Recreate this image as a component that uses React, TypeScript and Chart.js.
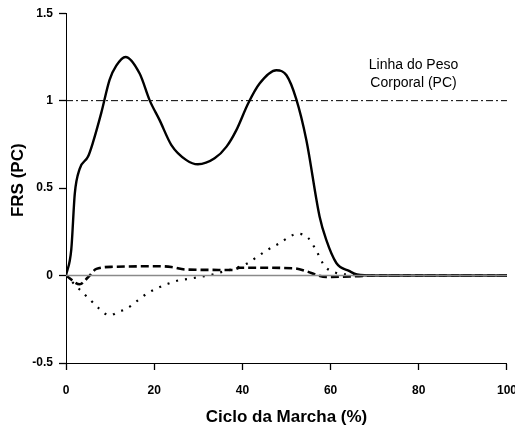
import React, { useEffect, useRef } from "react";
import { Chart, registerables } from "chart.js";

Chart.register(...registerables);

// Vertical ground reaction force (solid)
const verticalX = [0, 1.2, 2, 3.1, 5, 6.1, 8, 9.9, 11.4, 13.5, 16.7, 19, 21.2, 23.9, 27.3, 29.9, 33.7, 36.4, 38.6, 41.3, 43.9, 47.7, 50, 52.2, 54.5, 57.5, 59, 61.3, 64.3, 66, 70, 80, 90, 100];
const verticalY = [0, 0.15, 0.47, 0.61, 0.68, 0.76, 0.93, 1.12, 1.2, 1.25, 1.155, 1.0, 0.89, 0.746, 0.66, 0.636, 0.67, 0.737, 0.83, 0.984, 1.098, 1.174, 1.145, 1.01, 0.775, 0.338, 0.205, 0.072, 0.025, 0.006, 0, 0, 0, 0];

// Dashed component
const dashedX = [0, 3.1, 5, 6.9, 10.7, 21.2, 23.9, 27.3, 37.8, 39.4, 51.5, 54.5, 57.2, 59, 65.8, 70, 100];
const dashedY = [0, -0.05, -0.01, 0.038, 0.05, 0.053, 0.049, 0.034, 0.032, 0.045, 0.042, 0.025, 0.0, -0.008, -0.004, 0, 0];

// Dotted component
const dottedX = [0, 3.1, 5.4, 7.3, 9.9, 11.8, 14.1, 16.3, 18.6, 20.9, 23.1, 25.4, 27.7, 29.9, 32.2, 34.5, 38.6, 41.3, 43.5, 45.8, 48.1, 52.6, 54.9, 56.6, 58.7, 61.3, 64.3, 70, 100];
const dottedY = [0, -0.08, -0.137, -0.184, -0.228, -0.209, -0.184, -0.142, -0.099, -0.07, -0.047, -0.028, -0.019, -0.01, 0, 0.015, 0.044, 0.072, 0.11, 0.148, 0.18, 0.239, 0.215, 0.15, 0.053, 0.015, 0.005, 0, 0];

// Reference lines
const refX = [0, 100];
const bodyWeightY = [1, 1];
const zeroY = [0, 0];

const xTicks = [0, 20, 40, 60, 80, 100];
const yTicks = [-0.5, 0, 0.5, 1, 1.5];

const annotationLines = ["Linha do Peso", "Corporal (PC)"];
const xTitle = "Ciclo da Marcha (%)";
const yTitle = "FRS (PC)";

const FONT = "'Liberation Sans', Arial, Helvetica, sans-serif";

const zip = (xs: number[], ys: number[]) => xs.map((x, i) => ({ x, y: ys[i] }));

const annotationPlugin = {
  id: "pcAnnotation",
  afterDraw(chart: any) {
    const ctx = chart.ctx;
    ctx.save();
    ctx.fillStyle = "#000";
    ctx.font = `14px ${FONT}`;
    ctx.textAlign = "center";
    ctx.textBaseline = "middle";
    const xs = chart.scales.x;
    const ys = chart.scales.y;
    const cx = xs.getPixelForValue(78.8);
    const y0 = ys.getPixelForValue(1.2);
    ctx.fillText(annotationLines[0], cx, y0 - 1);
    ctx.fillText(annotationLines[1], cx, y0 + 17);
    // y axis title
    ctx.font = `bold 17px ${FONT}`;
    ctx.translate(18, ys.getPixelForValue(0.545));
    ctx.rotate(-Math.PI / 2);
    ctx.fillText(yTitle, 0, 0);
    ctx.restore();
  },
};

export default function App() {
  const canvasRef = useRef<HTMLCanvasElement | null>(null);

  useEffect(() => {
    document.body.style.margin = "0";
    const canvas = canvasRef.current;
    if (!canvas) return;
    const chart = new Chart(canvas, {
      type: "line",
      data: {
        datasets: [
          {
            label: "zero",
            data: zip(refX, zeroY),
            borderColor: "#8a8a8a",
            borderWidth: 1.5,
            pointRadius: 0,
            tension: 0,
          },
          {
            label: "PC",
            data: zip(refX, bodyWeightY),
            borderColor: "#000",
            borderWidth: 1,
            borderDash: [7, 3, 2, 3],
            pointRadius: 0,
            tension: 0,
          },
          {
            label: "dotted",
            data: zip(dottedX, dottedY),
            borderColor: "#000",
            borderWidth: 2.2,
            borderDash: [2, 7],
            pointRadius: 0,
            cubicInterpolationMode: "monotone",
          },
          {
            label: "dashed",
            data: zip(dashedX, dashedY),
            borderColor: "#000",
            borderWidth: 2.6,
            borderDash: [8, 4],
            pointRadius: 0,
            cubicInterpolationMode: "monotone",
          },
          {
            label: "vertical",
            data: zip(verticalX, verticalY),
            borderColor: "#000",
            borderWidth: 2.4,
            pointRadius: 0,
            cubicInterpolationMode: "monotone",
          },
        ],
      },
      options: {
        responsive: false,
        animation: false,
        layout: { padding: { left: 0, top: 13, right: 22.7, bottom: 0 } },
        plugins: {
          legend: { display: false },
          tooltip: { enabled: false },
        },
        scales: {
          x: {
            type: "linear",
            min: 0,
            max: 100,
            afterBuildTicks: (scale: any) => {
              scale.ticks = xTicks.map((v) => ({ value: v }));
            },
            afterFit: (scale: any) => {
              scale.height = 65;
            },
            border: { display: true, color: "#000", width: 1 },
            grid: {
              display: true,
              drawOnChartArea: false,
              drawTicks: true,
              tickLength: 7,
              color: "#000",
              tickColor: "#000",
              lineWidth: 1,
              tickWidth: 1.3,
            },
            ticks: {
              color: "#000",
              padding: 13,
              maxRotation: 0,
              callback: (v: any) => String(v),
              font: { family: FONT, size: 12, weight: "bold" },
            },
            title: {
              display: true,
              text: xTitle,
              color: "#000",
              padding: { top: 0, bottom: 0 },
              font: { family: FONT, size: 17, weight: "bold" },
            },
          },
          y: {
            type: "linear",
            min: -0.5,
            max: 1.5,
            afterBuildTicks: (scale: any) => {
              scale.ticks = yTicks.map((v) => ({ value: v }));
            },
            afterFit: (scale: any) => {
              scale.width = 66;
            },
            border: { display: true, color: "#000", width: 1 },
            grid: {
              display: true,
              drawOnChartArea: false,
              drawTicks: true,
              tickLength: 7,
              color: "#000",
              tickColor: "#000",
              lineWidth: 1,
              tickWidth: 1.3,
            },
            ticks: {
              color: "#000",
              padding: 6,
              callback: (v: any) => String(v),
              font: { family: FONT, size: 12, weight: "bold" },
            },
            title: { display: false },
          },
        },
      },
      plugins: [annotationPlugin],
    } as any);
    return () => chart.destroy();
  }, []);

  return (
    <div style={{ position: "absolute", left: 0, top: 0, width: 515, height: 428, overflow: "hidden", background: "#fff" }}>
      <canvas ref={canvasRef} width={530} height={428} />
    </div>
  );
}
